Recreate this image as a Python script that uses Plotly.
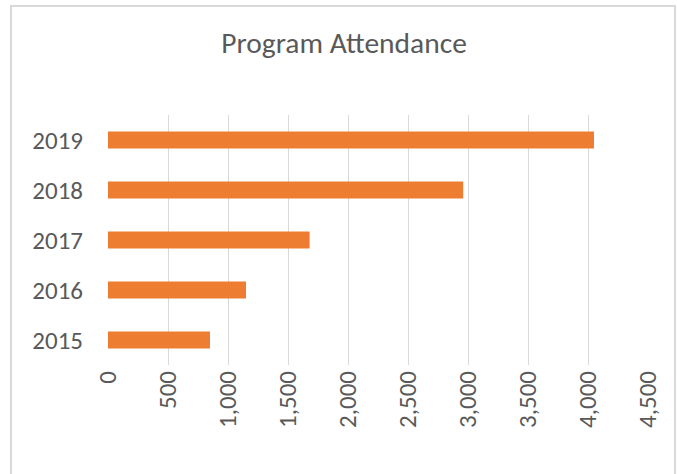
import plotly.graph_objects as go

years = ["2015", "2016", "2017", "2018", "2019"]
attendance = [850, 1150, 1680, 2960, 4050]
x_ticks = list(range(0, 5000, 500))
x_tick_labels = [f"{v:,}" for v in x_ticks]

FONT = "Carlito, Calibri, Lato, sans-serif"
GREY = "#595959"

fig = go.Figure(go.Bar(
    y=years, x=attendance, orientation="h",
    marker=dict(color="#ED7D31", line=dict(width=0)),
    width=0.34,
))

fig.update_layout(
    width=677, height=474,
    margin=dict(l=108, r=29, t=115, b=109),
    paper_bgcolor="white", plot_bgcolor="white",
    title=dict(text="Program Attendance", x=344 / 677, xref="container", xanchor="center",
               y=1 - 43 / 474, yref="container", yanchor="middle",
               font=dict(family=FONT, size=29.5, color=GREY)),
    showlegend=False,
    font=dict(family=FONT, color=GREY),
)
fig.update_xaxes(range=[0, 4500], tickvals=x_ticks, ticktext=x_tick_labels,
                 tickangle=-90, showgrid=True, gridcolor="#D9D9D9", gridwidth=1,
                 zeroline=False, showline=False, ticks="",
                 tickfont=dict(family=FONT, size=25, color=GREY))
fig.update_yaxes(type="category", categoryorder="array", categoryarray=years,
                 showgrid=False, zeroline=False, showline=False, ticks="",
                 ticklabelstandoff=24,
                 tickfont=dict(family=FONT, size=25, color=GREY))

fig.add_shape(type="rect", xref="paper", yref="paper",
              x0=(11 - 108) / 540, x1=(675 - 108) / 540,
              y0=(365 - 490) / 250, y1=(365 - 6) / 250,
              line=dict(color="#D9D9D9", width=2), fillcolor="rgba(0,0,0,0)",
              layer="below")

fig.write_html("out.html", config={"displayModeBar": False},
               post_script="document.body.style.margin='0';")
